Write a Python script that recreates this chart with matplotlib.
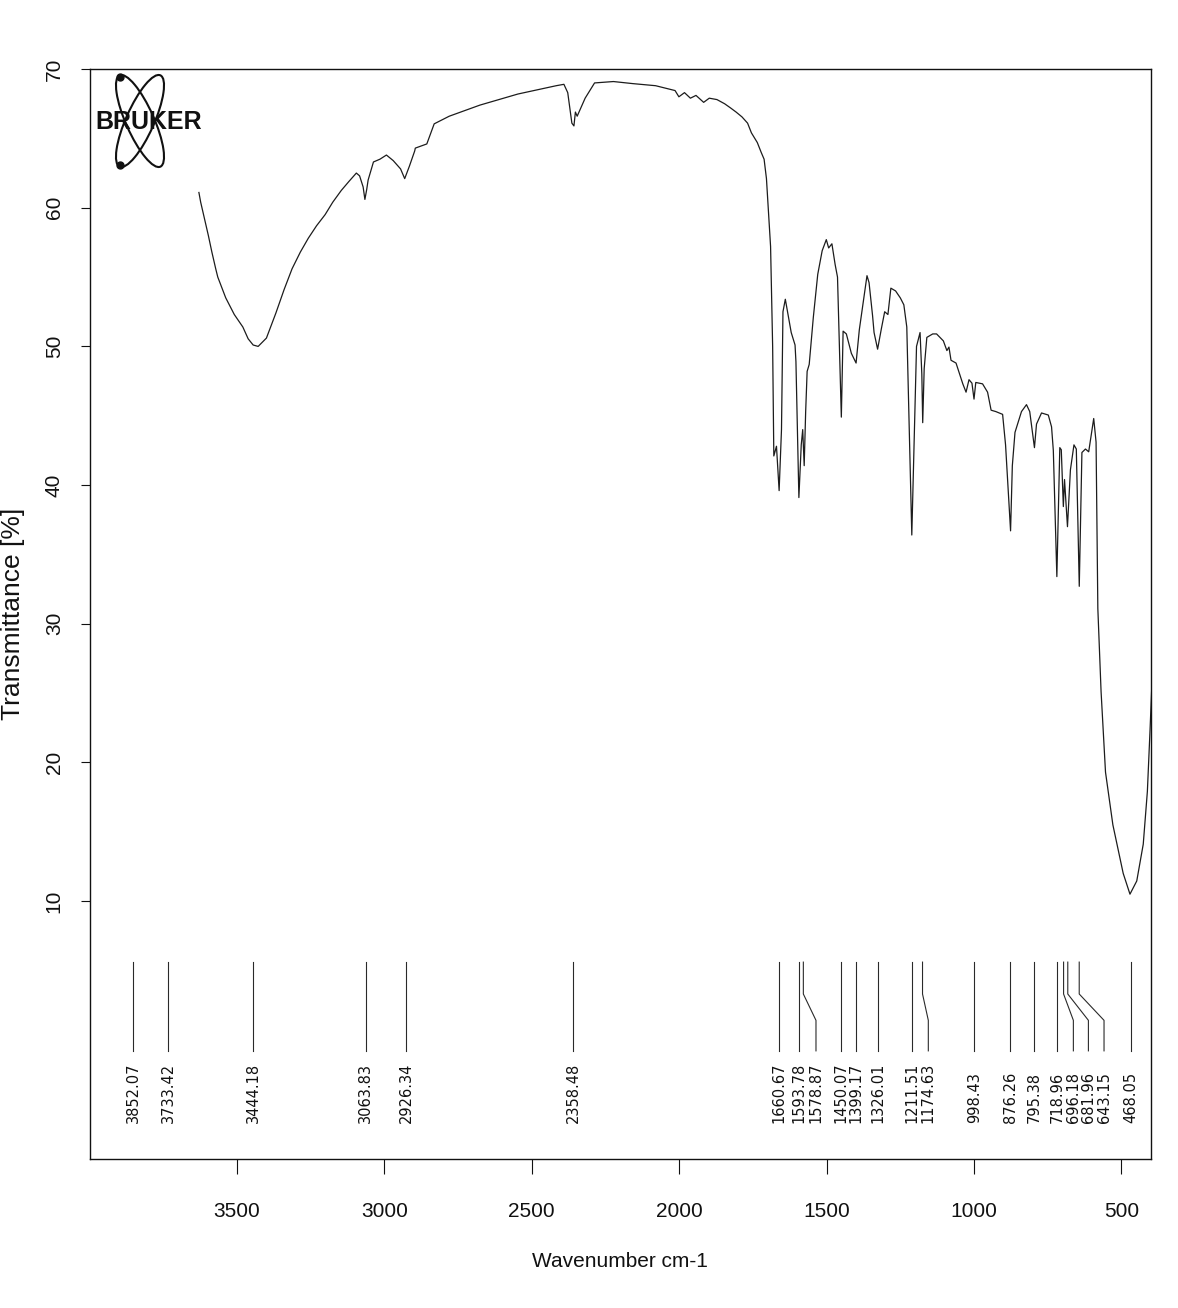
import matplotlib
matplotlib.use("Agg")
import matplotlib.pyplot as plt
import numpy as np
from matplotlib.patches import Ellipse

# ---------------- data ----------------
wavenumber = [3629, 3623, 3610, 3597, 3585, 3572, 3565, 3538, 3509, 3480, 3462, 3445,
              3428, 3400, 3385, 3368, 3340, 3313, 3285,
              3258, 3230, 3201, 3175, 3146, 3120, 3095, 3084, 3072, 3066, 3060, 3055, 3037, 3015, 2993,
              2970, 2945, 2931, 2915, 2897, 2895, 2856, 2831, 2780, 2676, 2547, 2417,
              2391, 2378, 2364, 2357, 2352, 2346, 2319, 2287, 2223, 2157, 2080, 2014,
              2001, 1982, 1962, 1943, 1917, 1898, 1872, 1846, 1826, 1807, 1787, 1768,
              1755, 1735, 1722, 1712, 1704, 1690, 1683, 1679, 1670, 1661, 1653, 1648,
              1640, 1630, 1620, 1607, 1604, 1594, 1586, 1581, 1576, 1571, 1566, 1559,
              1545, 1530, 1515, 1501, 1493, 1482, 1471, 1463, 1450, 1444, 1433, 1416,
              1400, 1389, 1363, 1356, 1344, 1339, 1327, 1314, 1303, 1292, 1282, 1266,
              1250, 1238, 1228, 1211, 1195, 1183, 1177, 1174, 1169, 1160, 1140, 1127,
              1104, 1092, 1085, 1078, 1061, 1038, 1027, 1017, 1007, 1000, 994, 971,
              954, 942, 926, 903, 893, 876, 870, 861, 839, 822, 811, 795,
              788, 771, 748, 737, 731, 719, 709, 704, 697, 693, 683, 673,
              661, 653, 643, 634, 622, 611, 594, 586, 580, 569, 554, 529,
              494, 471, 448, 426, 412, 403, 396]
transmittance = [61.1, 60.4, 59.2, 58.0, 56.8, 55.6, 55.0, 53.5, 52.3, 51.4, 50.55, 50.1,
                 50.0, 50.6, 51.45, 52.4, 54.1, 55.6, 56.8,
                 57.8, 58.7, 59.5, 60.4, 61.25, 61.9, 62.5, 62.3, 61.5, 60.6, 61.3, 62.0, 63.3, 63.5, 63.8,
                 63.4, 62.8, 62.1, 63.0, 64.1, 64.3, 64.6, 66.05, 66.6, 67.4, 68.2, 68.8,
                 68.9, 68.3, 66.1, 65.9, 66.9, 66.6, 67.9, 69.0, 69.1, 68.95, 68.8, 68.45,
                 68.0, 68.3, 67.9, 68.1, 67.6, 67.9, 67.8, 67.5, 67.2, 66.9, 66.55, 66.1,
                 65.4, 64.7, 64.0, 63.5, 62.1, 57.2, 50.0, 42.1, 42.8, 39.6, 44.0, 52.5,
                 53.4, 52.2, 51.0, 50.1, 48.9, 39.1, 42.9, 44.0, 41.4, 45.3, 48.2, 48.7,
                 52.1, 55.2, 56.9, 57.7, 57.1, 57.4, 55.9, 55.0, 44.9, 51.1, 50.9, 49.5,
                 48.8, 51.2, 55.1, 54.6, 52.2, 51.0, 49.8, 51.3, 52.5, 52.3, 54.2, 54.0,
                 53.5, 53.0, 51.4, 36.4, 50.0, 51.0, 48.0, 44.5, 48.4, 50.65, 50.9, 50.9,
                 50.4, 49.7, 49.95, 49.0, 48.8, 47.3, 46.7, 47.6, 47.35, 46.2, 47.4, 47.3,
                 46.7, 45.4, 45.3, 45.1, 42.9, 36.7, 41.4, 43.8, 45.3, 45.8, 45.3, 42.7,
                 44.4, 45.2, 45.05, 44.2, 42.5, 33.4, 42.7, 42.55, 38.45, 40.4, 37.0, 41.1,
                 42.9, 42.6, 32.7, 42.35, 42.6, 42.4, 44.8, 43.1, 31.1, 25.1, 19.3, 15.5,
                 12.0, 10.5, 11.45, 14.1, 17.9, 22.3, 26.0]

peak_labels = ["3852.07", "3733.42", "3444.18", "3063.83", "2926.34", "2358.48",
               "1660.67", "1593.78", "1578.87", "1450.07", "1399.17", "1326.01",
               "1211.51", "1174.63", "998.43", "876.26", "795.38", "718.96",
               "696.18", "681.96", "643.15", "468.05"]
peak_positions = [3852.07, 3733.42, 3444.18, 3063.83, 2926.34, 2358.48,
                  1660.67, 1593.78, 1578.87, 1450.07, 1399.17, 1326.01,
                  1211.51, 1174.63, 998.43, 876.26, 795.38, 718.96,
                  696.18, 681.96, 643.15, 468.05]
label_positions = [3852.07, 3733.42, 3444.18, 3063.83, 2926.34, 2358.48,
                   1660.67, 1593.78, 1536.0, 1450.07, 1399.17, 1326.01,
                   1211.51, 1155.0, 998.43, 876.26, 795.38, 718.96,
                   663.0, 612.0, 559.0, 468.05]

x_ticks = [3500, 3000, 2500, 2000, 1500, 1000, 500]
y_ticks = [10, 20, 30, 40, 50, 60, 70]

# ---------------- figure ----------------
plt.rcParams['font.family'] = ['Liberation Sans', 'DejaVu Sans']
fig = plt.figure(figsize=(11.78, 13.08), dpi=100)
fig.patch.set_facecolor('white')
ax = fig.add_axes([0.076, 0.1139, 0.901, 0.8333])

ax.plot(wavenumber, transmittance, color='#1c1c1c', lw=0.9)

ax.set_xlim(4000, 400)
ax.set_ylim(-8.6, 70)
ax.set_xticks(x_ticks)
ax.set_xticklabels([str(v) for v in x_ticks])
ax.set_yticks(y_ticks)
ax.set_yticklabels([str(v) for v in y_ticks])

ax.tick_params(axis='x', direction='out', length=11, width=0.8, pad=20,
               labelsize=15, colors='#111111')
ax.tick_params(axis='y', direction='out', length=6.5, width=0.8, pad=12,
               labelsize=15, labelrotation=90, colors='#111111')
for lab in ax.get_yticklabels():
    lab.set_verticalalignment('center')

for sp in ax.spines.values():
    sp.set_linewidth(1.0)
    sp.set_color('#111111')

ax.set_xlabel('Wavenumber cm-1', fontsize=15, labelpad=22, color='#111111')
ax.set_ylabel('Transmittance [%]', fontsize=19, labelpad=14, color='#111111')

# ---------------- peak markers ----------------
y_top, y_k1, y_k2, y_bot, y_text = 5.6, 3.3, 1.4, -0.8, -6.0
for lab, p, l in zip(peak_labels, peak_positions, label_positions):
    ax.plot([p, p, l, l], [y_top, y_k1, y_k2, y_bot], color='#2a2a2a', lw=0.8)
    ax.text(l, y_text, lab, rotation=90, ha='center', va='bottom',
            fontsize=10.5, family='DejaVu Sans', color='#111111')

# ---------------- BRUKER logo ----------------
lax = fig.add_axes([92 / 1178, 1 - 182 / 1308, 116 / 1178, 120 / 1308])
lax.set_xlim(92, 208)
lax.set_ylim(182, 62)
lax.axis('off')
cx, cy, a, b, th = 140, 121, 50, 14, 24
for ang in (th, -th):
    lax.add_patch(Ellipse((cx, cy), 2 * b, 2 * a, angle=ang, fill=False,
                          ec='#111111', lw=1.5))
for ang, s in ((-th, -1), (th, 1)):
    r = np.deg2rad(ang)
    dx, dy = 0.0, s * a * 0.97
    px = cx + dx * np.cos(r) - dy * np.sin(r)
    py = cy + dx * np.sin(r) + dy * np.cos(r)
    lax.plot([px], [py], 'o', color='#111111', ms=5)
lax.text(149, 122, 'BRUKER', ha='center', va='center', fontsize=18,
         fontweight='bold', color='#111111', family='Liberation Sans')

fig.savefig('out.png', dpi=100, facecolor='white')
